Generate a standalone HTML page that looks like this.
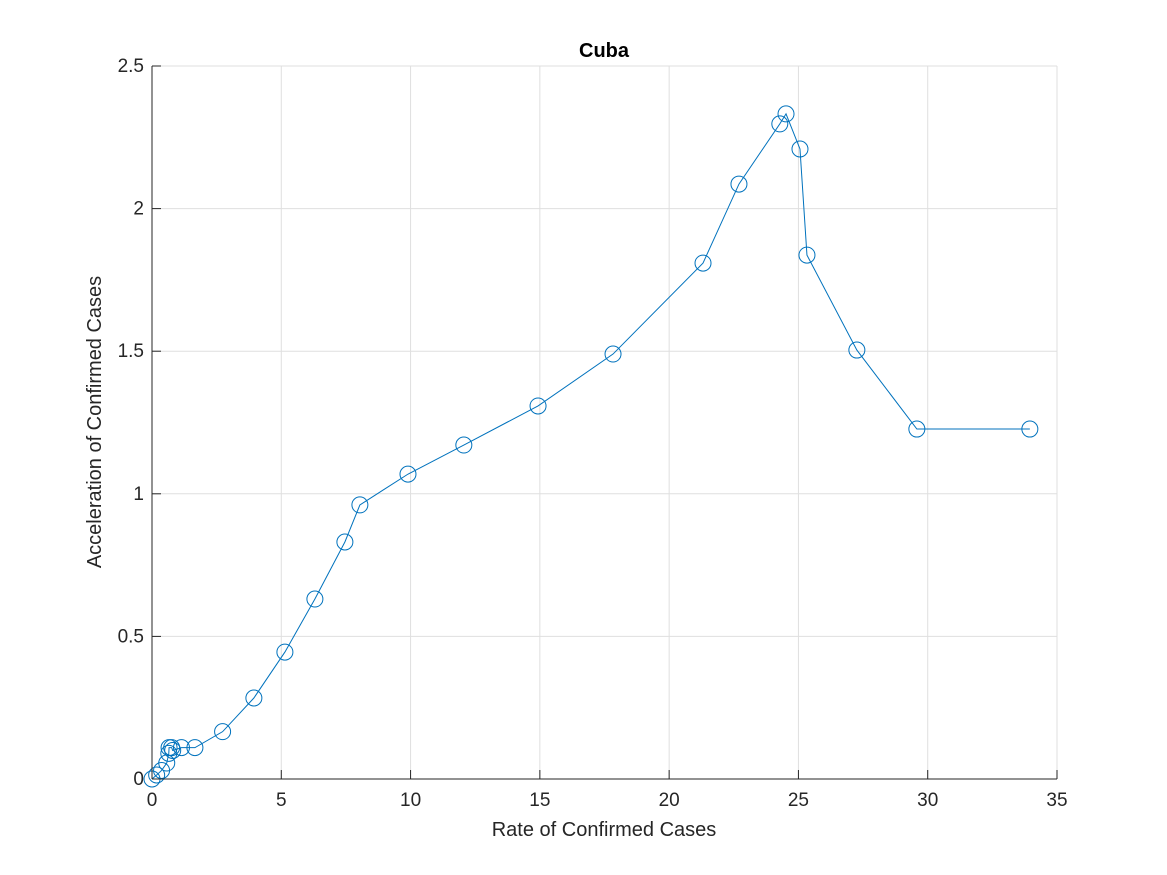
<!DOCTYPE html>
<html><head><meta charset="utf-8"><style>
body{margin:0;background:#fff;}
svg{display:block;font-family:"Liberation Sans",sans-serif;}
</style></head><body>
<svg id="chart" width="1167" height="875" viewBox="0 0 1167 875">
<rect x="0" y="0" width="1167" height="875" fill="#fff"/>
<g id="grid"></g>
<g id="series"></g>
<line x1="152" y1="66" x2="152" y2="779" stroke="#262626" stroke-width="1"/>
<line x1="152" y1="779" x2="1057" y2="779" stroke="#262626" stroke-width="1"/>
<g id="ticks"></g>
<text x="604" y="57" text-anchor="middle" font-size="20" font-weight="bold" fill="#000">Cuba</text>
<text x="604" y="836" text-anchor="middle" font-size="20" fill="#262626">Rate of Confirmed Cases</text>
<text transform="translate(101,422) rotate(-90)" text-anchor="middle" font-size="20" fill="#262626">Acceleration of Confirmed Cases</text>
</svg>
<script>
const xValues=[0,0.18,0.37,0.57,0.65,0.66,0.76,0.8,1.14,1.66,2.73,3.94,5.14,6.30,7.46,8.04,9.9,12.06,14.93,17.83,21.31,22.70,24.28,24.52,25.06,25.33,27.26,29.58,33.95];
const yValues=[0,0.014,0.03,0.056,0.09,0.11,0.11,0.10,0.11,0.11,0.166,0.284,0.445,0.631,0.831,0.961,1.069,1.171,1.308,1.490,1.809,2.086,2.297,2.332,2.209,1.837,1.504,1.227,1.227];
const xTicks=[0,5,10,15,20,25,30,35];
const yTicks=[0,0.5,1,1.5,2,2.5];
const yTickLabels=["0","0.5","1","1.5","2","2.5"];
const L=152,R=1057,T=66,B=779;
const xs=v=>L+(v-0)/35*(R-L);
const ys=v=>B-(v-0)/2.5*(B-T);
const NS="http://www.w3.org/2000/svg";
const grid=document.getElementById('grid'),ticks=document.getElementById('ticks'),ser=document.getElementById('series');
function mk(tag,attrs,parent){const e=document.createElementNS(NS,tag);for(const k in attrs)e.setAttribute(k,attrs[k]);parent.appendChild(e);return e;}
xTicks.forEach(t=>{
  const x=xs(t);
  const g=mk('line',{x1:x,x2:x,y1:T,y2:B,stroke:'#dfdfdf','stroke-width':1},grid);
  
  
  const tk=mk('line',{x1:x,x2:x,y1:B,y2:B-9,stroke:'#262626'},ticks);
  
  
  const tt=mk('text',{x:x,y:B+27,'text-anchor':'middle','font-size':19,fill:'#262626'},ticks);
  tt.textContent=String(t);
  
  
});
yTicks.forEach((t,i)=>{
  const y=ys(t);
  const g=mk('line',{x1:L,x2:R,y1:y,y2:y,stroke:'#dfdfdf','stroke-width':1},grid);
  
  
  const tk=mk('line',{x1:L,x2:L+9,y1:y,y2:y,stroke:'#262626'},ticks);
  
  
  const tt=mk('text',{x:L-8,y:y+6,'text-anchor':'end','font-size':19,fill:'#262626'},ticks);
  tt.textContent=yTickLabels[i];
  
  
});
const pts=xValues.map((v,i)=>xs(v)+','+ys(yValues[i])).join(' ');
const pl=mk('polyline',{points:pts,fill:'none',stroke:'#0072bd','stroke-width':1},ser);


xValues.forEach((v,i)=>{
  const c=mk('circle',{cx:xs(v),cy:ys(yValues[i]),r:8,fill:'none',stroke:'#0072bd','stroke-width':1},ser);
  
  
});
</script>
</body></html>
